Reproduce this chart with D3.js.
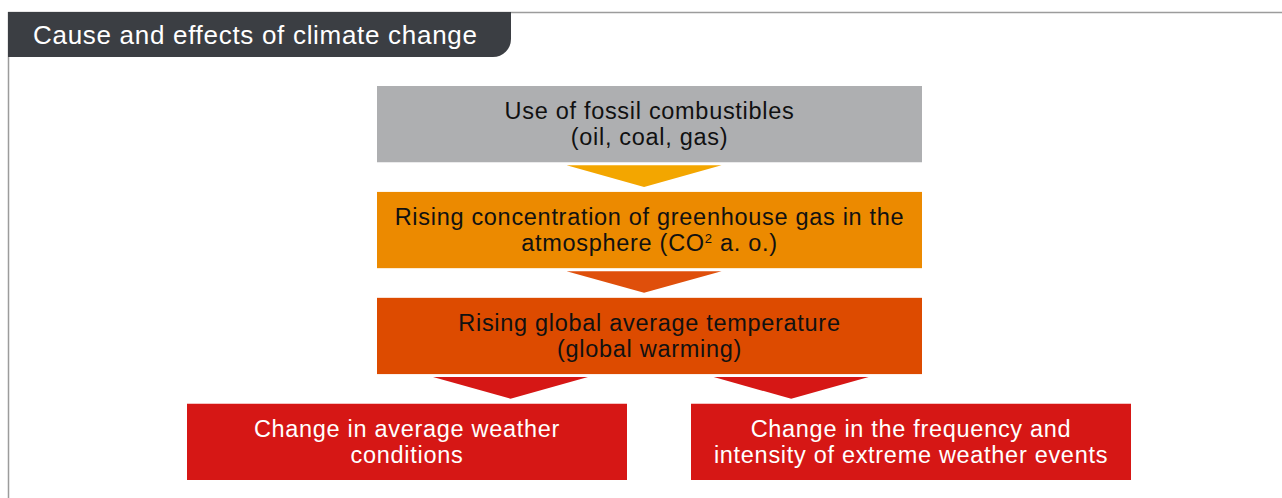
<html>
<head>
<style>
  body { margin: 0; background: #fff; }
  text { font-family: "Liberation Sans", Arial, sans-serif; }
</style>
</head>
<body>
<svg id="mainSvg" width="1282" height="498"></svg>
<script src="https://d3js.org/d3.v7.min.js"></script>
<script>
// chart data
const title = 'Cause and effects of climate change'
const nodeIds = ['fossil', 'ghg', 'temp', 'avg', 'extreme']
const nodeRows = [0, 1, 2, 3, 3]
const nodeCols = ['center', 'center', 'center', 'left', 'right']
const nodeLines = [
  ['Use of fossil combustibles', '(oil, coal, gas)'],
  ['Rising concentration of greenhouse gas in the', 'atmosphere (CO|2| a. o.)'],
  ['Rising global average temperature', '(global warming)'],
  ['Change in average weather', 'conditions'],
  ['Change in the frequency and', 'intensity of extreme weather events']
]
const nodeColors = ['#aeafb1', '#ec8a00', '#dd4b00', '#d61715', '#d61715']
const nodeTextColors = ['#111', '#111', '#111', '#fff', '#fff']
const arrowFrom = ['fossil', 'ghg', 'temp', 'temp']
const arrowTo = ['ghg', 'temp', 'avg', 'extreme']
const arrowAt = [0.49, 0.49, 0.245, 0.76]   // where on the source box the tip sits
const arrowColors = ['#f3a600', '#df4f0b', '#d61715', '#d61715']

const svg = d3.select('#mainSvg')

const yScale = d3.scaleBand().domain([0, 1, 2, 3]).range([86, 480]).paddingInner(0.28)
const xCol = d3.scaleBand().domain(['left', 'right']).range([187, 1131]).paddingInner(0.127)
const centerX = [377, 922]

const boxX = c => c === 'center' ? centerX[0] : xCol(c)
const boxW = c => c === 'center' ? centerX[1] - centerX[0] : xCol.bandwidth()

const nodes = nodeIds.map((id, i) => ({
  id, row: nodeRows[i], col: nodeCols[i], lines: nodeLines[i],
  fill: nodeColors[i], color: nodeTextColors[i]
}))
const byId = {}
nodes.forEach(n => { n.x = boxX(n.col); n.w = boxW(n.col); n.y = yScale(n.row); n.h = yScale.bandwidth(); byId[n.id] = n })

// frame
svg.append('line').attr('x1', 8).attr('x2', 1282).attr('y1', 12.5).attr('y2', 12.5)
  .attr('stroke', '#9c9c9c').attr('stroke-width', 1.5)
svg.append('line').attr('x1', 8.5).attr('x2', 8.5).attr('y1', 12).attr('y2', 498)
  .attr('stroke', '#9c9c9c').attr('stroke-width', 1.5)

// title tab
const tx0 = 8, tx1 = 511, ty0 = 12, ty1 = 57, r = 18
svg.append('path')
  .attr('d', `M${tx0},${ty0}H${tx1}V${ty1 - r}A${r},${r} 0 0 1 ${tx1 - r},${ty1}H${tx0}Z`)
  .attr('fill', '#3b3e43')
svg.append('text').attr('x', 33).attr('y', 44)
  .attr('fill', '#fff').attr('font-size', 26).attr('letter-spacing', 0.7).text(title)

// arrows
const arrowW = 155
arrowFrom.forEach((f, i) => {
  const s = byId[f], t = byId[arrowTo[i]]
  const tipX = s.x + s.w * arrowAt[i]
  const top = s.y + s.h + 3
  const bottom = t.y - 5
  svg.append('path')
    .attr('d', `M${tipX - arrowW / 2},${top}H${tipX + arrowW / 2}L${tipX},${bottom}Z`)
    .attr('fill', arrowColors[i])
})

// boxes
const g = svg.selectAll('g.node').data(nodes).join('g').attr('class', 'node')
g.append('rect')
  .attr('x', d => d.x).attr('y', d => d.y)
  .attr('width', d => d.w).attr('height', d => d.h)
  .attr('fill', d => d.fill)

const lineGap = 26
g.each(function (d) {
  const cx = d.x + d.w / 2, cy = d.y + d.h / 2
  d.lines.forEach((ln, j) => {
    const t = d3.select(this).append('text')
      .attr('x', cx).attr('y', cy + (j - (d.lines.length - 1) / 2) * lineGap + 8)
      .attr('text-anchor', 'middle').attr('font-size', 23.5)
      .attr('letter-spacing', 0.7).attr('fill', d.color)
    const parts = ln.split('|')
    parts.forEach((p, k) => {
      if (k % 2 === 1) {
        t.append('tspan').attr('font-size', 13).attr('dy', -8).text(p)
      } else {
        t.append('tspan').attr('dy', k > 0 ? 8 : 0).text(p)
      }
    })
  })
})
</script>
</body>
</html>
